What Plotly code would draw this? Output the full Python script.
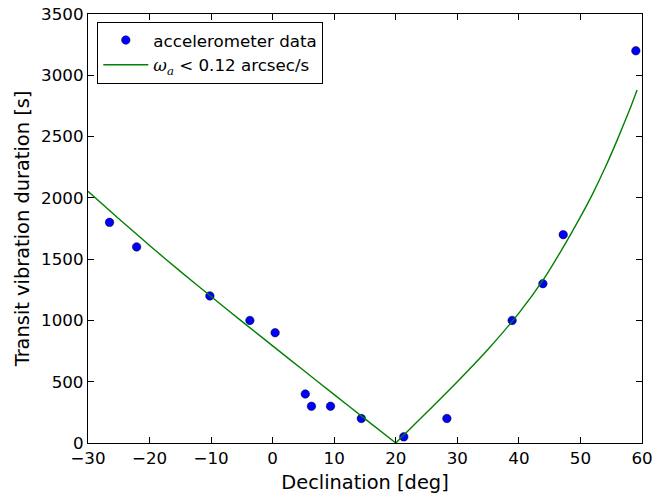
import plotly.graph_objects as go

# Measured transit vibration durations versus declination
declination = [-26.5, -22.1, -10.2, -3.7, 0.4, 5.3, 6.3, 9.4, 14.4, 21.3, 28.3, 38.9, 43.9, 47.2, 59.0]
duration = [1800, 1600, 1200, 1000, 900, 400, 300, 300, 200, 50, 200, 1000, 1300, 1700, 3200]

# Limit curve for an angular rate of 0.12 arcsec/s (two branches either side of the minimum)
curve_dec_south = [-30, -25, -20, -15, -10, -5, 0, 5, 10, 15, 20]
curve_dur_south = [2053, 1830, 1612, 1400, 1195, 992, 792, 593, 395, 197, 0]
curve_dec_north = [20, 25, 30, 35, 40, 44, 47, 50, 52, 54, 56, 58, 59.2]
curve_dur_north = [0, 248, 500, 765, 1060, 1335, 1580, 1845, 2035, 2245, 2475, 2720, 2880]

x_ticks = [-30, -20, -10, 0, 10, 20, 30, 40, 50, 60]
y_ticks = [0, 500, 1000, 1500, 2000, 2500, 3000, 3500]

FONT = "DejaVu Sans"
GREEN = "#008000"
CURVE_NAME = ("<span style=\"font-family:'DejaVu Serif'\"><i>ω</i><sub><i>a</i></sub></span>"
              " &lt; 0.12 arcsec/s")

fig = go.Figure()
fig.add_trace(go.Scatter(
    x=declination, y=duration, mode="markers",
    name="accelerometer data",
    marker=dict(color="#0000ff", size=8.5, line=dict(color="black", width=0.5)),
))
fig.add_trace(go.Scatter(
    x=curve_dec_south, y=curve_dur_south, mode="lines",
    name=CURVE_NAME, legendgroup="limit",
    line=dict(color=GREEN, width=1.4, shape="spline", smoothing=0.6),
))
fig.add_trace(go.Scatter(
    x=curve_dec_north, y=curve_dur_north, mode="lines",
    name=CURVE_NAME, legendgroup="limit", showlegend=False,
    line=dict(color=GREEN, width=1.4, shape="spline", smoothing=0.6),
))

axis_common = dict(
    showgrid=False, zeroline=False, automargin=False,
    showline=True, linecolor="black", linewidth=1.3, mirror="ticks",
    ticks="inside", ticklen=5.5, tickwidth=1, tickcolor="black",
    tickfont=dict(family=FONT, size=16.7, color="black"),
)

fig.update_layout(
    width=667, height=498,
    margin=dict(l=88, r=24.5, t=14, b=54.7),
    paper_bgcolor="white", plot_bgcolor="white",
    font=dict(family=FONT, color="black"),
    showlegend=True,
    legend=dict(
        x=0.0168, y=0.982, xanchor="left", yanchor="top",
        bgcolor="white", bordercolor="black", borderwidth=1,
        font=dict(family=FONT, size=16.7, color="black"),
        itemwidth=45, tracegroupgap=0,
    ),
    xaxis=dict(
        range=[-30, 60], tickvals=x_ticks,
        title=dict(text="Declination [deg]", font=dict(family=FONT, size=19.4), standoff=8),
        **axis_common,
    ),
    yaxis=dict(
        range=[0, 3500], tickvals=y_ticks,
        title=dict(text="Transit vibration duration [s]", font=dict(family=FONT, size=19.4), standoff=6),
        **axis_common,
    ),
)

fig.write_html("out.html")
